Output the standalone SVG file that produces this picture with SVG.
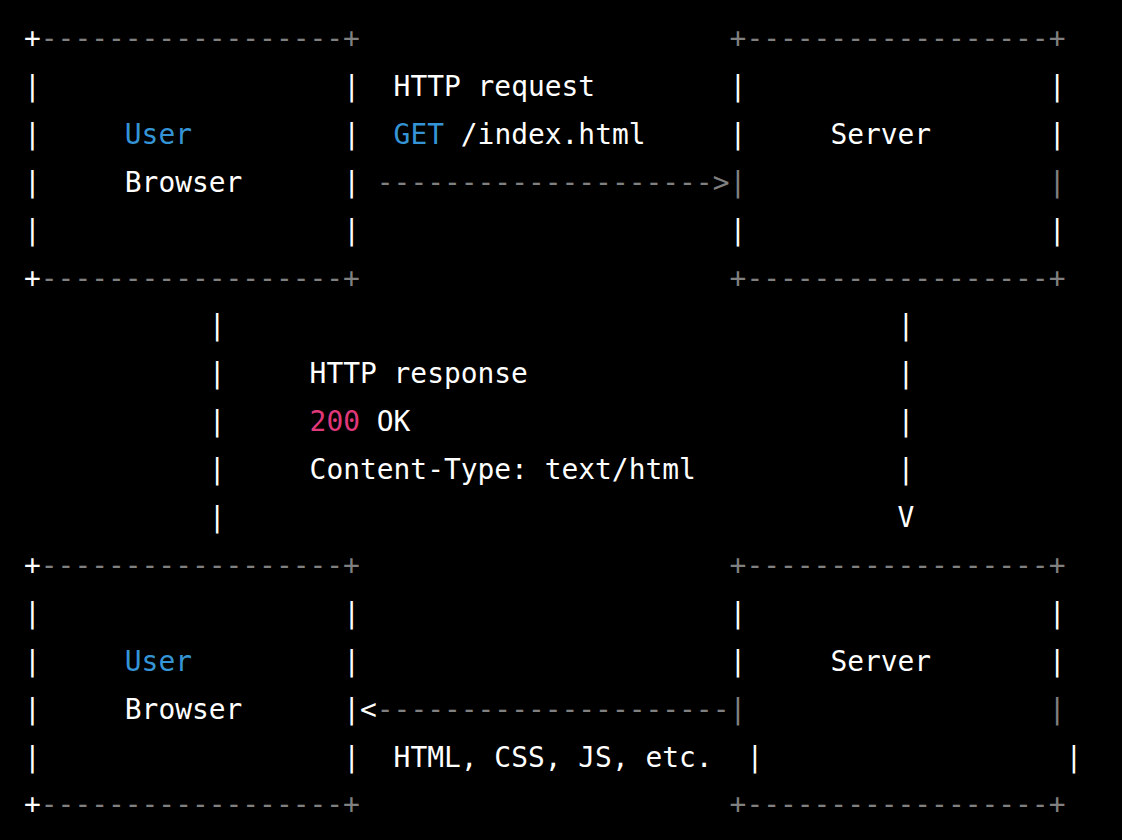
<svg xmlns="http://www.w3.org/2000/svg" width="1122" height="840" viewBox="0 0 1122 840">
<style>
text{font-family:"DejaVu Sans Mono","Liberation Mono",monospace;font-size:27.9px;white-space:pre}
.w{fill:#ffffff}
.g{fill:#808080}
.b{fill:#3594d6}
.p{fill:#e0387a}
</style>
<rect x="0" y="0" width="1122" height="840" fill="#000000"/>
<g transform="translate(-2,0)">
<g id="browser-top">
<text class="w" x="26" y="48">+</text><text class="g" x="42.8" y="48">------------------+</text>
<text class="w" x="26" y="95.9">|</text><text class="w" x="345.2" y="95.9">|</text>
<text class="w" x="26" y="143.8">|</text><text class="b" x="126.8" y="143.8">User</text><text class="w" x="345.2" y="143.8">|</text>
<text class="w" x="26" y="191.7">|</text><text class="w" x="126.8" y="191.7">Browser</text><text class="w" x="345.2" y="191.7">|</text>
<text class="w" x="26" y="239.6">|</text><text class="w" x="345.2" y="239.6">|</text>
<text class="w" x="26" y="287.5">+</text><text class="g" x="42.8" y="287.5">------------------+</text>
</g>
<g id="server-top">
<text class="g" x="731.6" y="48">+------------------+</text>
<text class="w" x="731.6" y="95.9">|</text><text class="w" x="1050.8" y="95.9">|</text>
<text class="w" x="731.6" y="143.8">|</text><text class="w" x="832.4" y="143.8">Server</text><text class="w" x="1050.8" y="143.8">|</text>
<text class="g" x="731.6" y="191.7">|</text><text class="g" x="1050.8" y="191.7">|</text>
<text class="w" x="731.6" y="239.6">|</text><text class="w" x="1050.8" y="239.6">|</text>
<text class="g" x="731.6" y="287.5">+------------------+</text>
</g>
<g id="browser-bottom">
<text class="w" x="26" y="574.9">+</text><text class="g" x="42.8" y="574.9">------------------+</text>
<text class="w" x="26" y="622.8">|</text><text class="w" x="345.2" y="622.8">|</text>
<text class="w" x="26" y="670.7">|</text><text class="b" x="126.8" y="670.7">User</text><text class="w" x="345.2" y="670.7">|</text>
<text class="w" x="26" y="718.6">|</text><text class="w" x="126.8" y="718.6">Browser</text><text class="w" x="345.2" y="718.6">|</text>
<text class="w" x="26" y="766.5">|</text><text class="w" x="345.2" y="766.5">|</text>
<text class="w" x="26" y="814.4">+</text><text class="g" x="42.8" y="814.4">------------------+</text>
</g>
<g id="server-bottom">
<text class="g" x="731.6" y="574.9">+------------------+</text>
<text class="w" x="731.6" y="622.8">|</text><text class="w" x="1050.8" y="622.8">|</text>
<text class="w" x="731.6" y="670.7">|</text><text class="w" x="832.4" y="670.7">Server</text><text class="w" x="1050.8" y="670.7">|</text>
<text class="g" x="731.6" y="718.6">|</text><text class="g" x="1050.8" y="718.6">|</text>
<text class="w" x="748.4" y="766.5">|</text><text class="w" x="1067.6" y="766.5">|</text>
<text class="g" x="731.6" y="814.4">+------------------+</text>
</g>
<g id="connectors">
<g id="request">
<text class="w" x="395.6" y="95.9">HTTP request</text>
<text class="b" x="395.6" y="143.8">GET</text><text class="w" x="462.8" y="143.8">/index.html</text>
<text class="g" x="378.8" y="191.7">--------------------&gt;</text>
</g>
<g id="response">
<text class="w" x="210.8" y="335.4">|</text>
<text class="w" x="210.8" y="383.3">|</text>
<text class="w" x="210.8" y="431.2">|</text>
<text class="w" x="210.8" y="479.1">|</text>
<text class="w" x="210.8" y="527">|</text>
<text class="w" x="899.6" y="335.4">|</text>
<text class="w" x="899.6" y="383.3">|</text>
<text class="w" x="899.6" y="431.2">|</text>
<text class="w" x="899.6" y="479.1">|</text>
<text class="w" x="899.6" y="527">V</text>
<text class="w" x="311.6" y="383.3">HTTP response</text>
<text class="p" x="311.6" y="431.2">200</text><text class="w" x="378.8" y="431.2">OK</text>
<text class="w" x="311.6" y="479.1">Content-Type: text/html</text>
</g>
<g id="assets">
<text class="w" x="362" y="718.6">&lt;</text><text class="g" x="378.8" y="718.6">---------------------</text>
<text class="w" x="395.6" y="766.5">HTML, CSS, JS, etc.</text>
</g>
</g>
</g>
</svg>
